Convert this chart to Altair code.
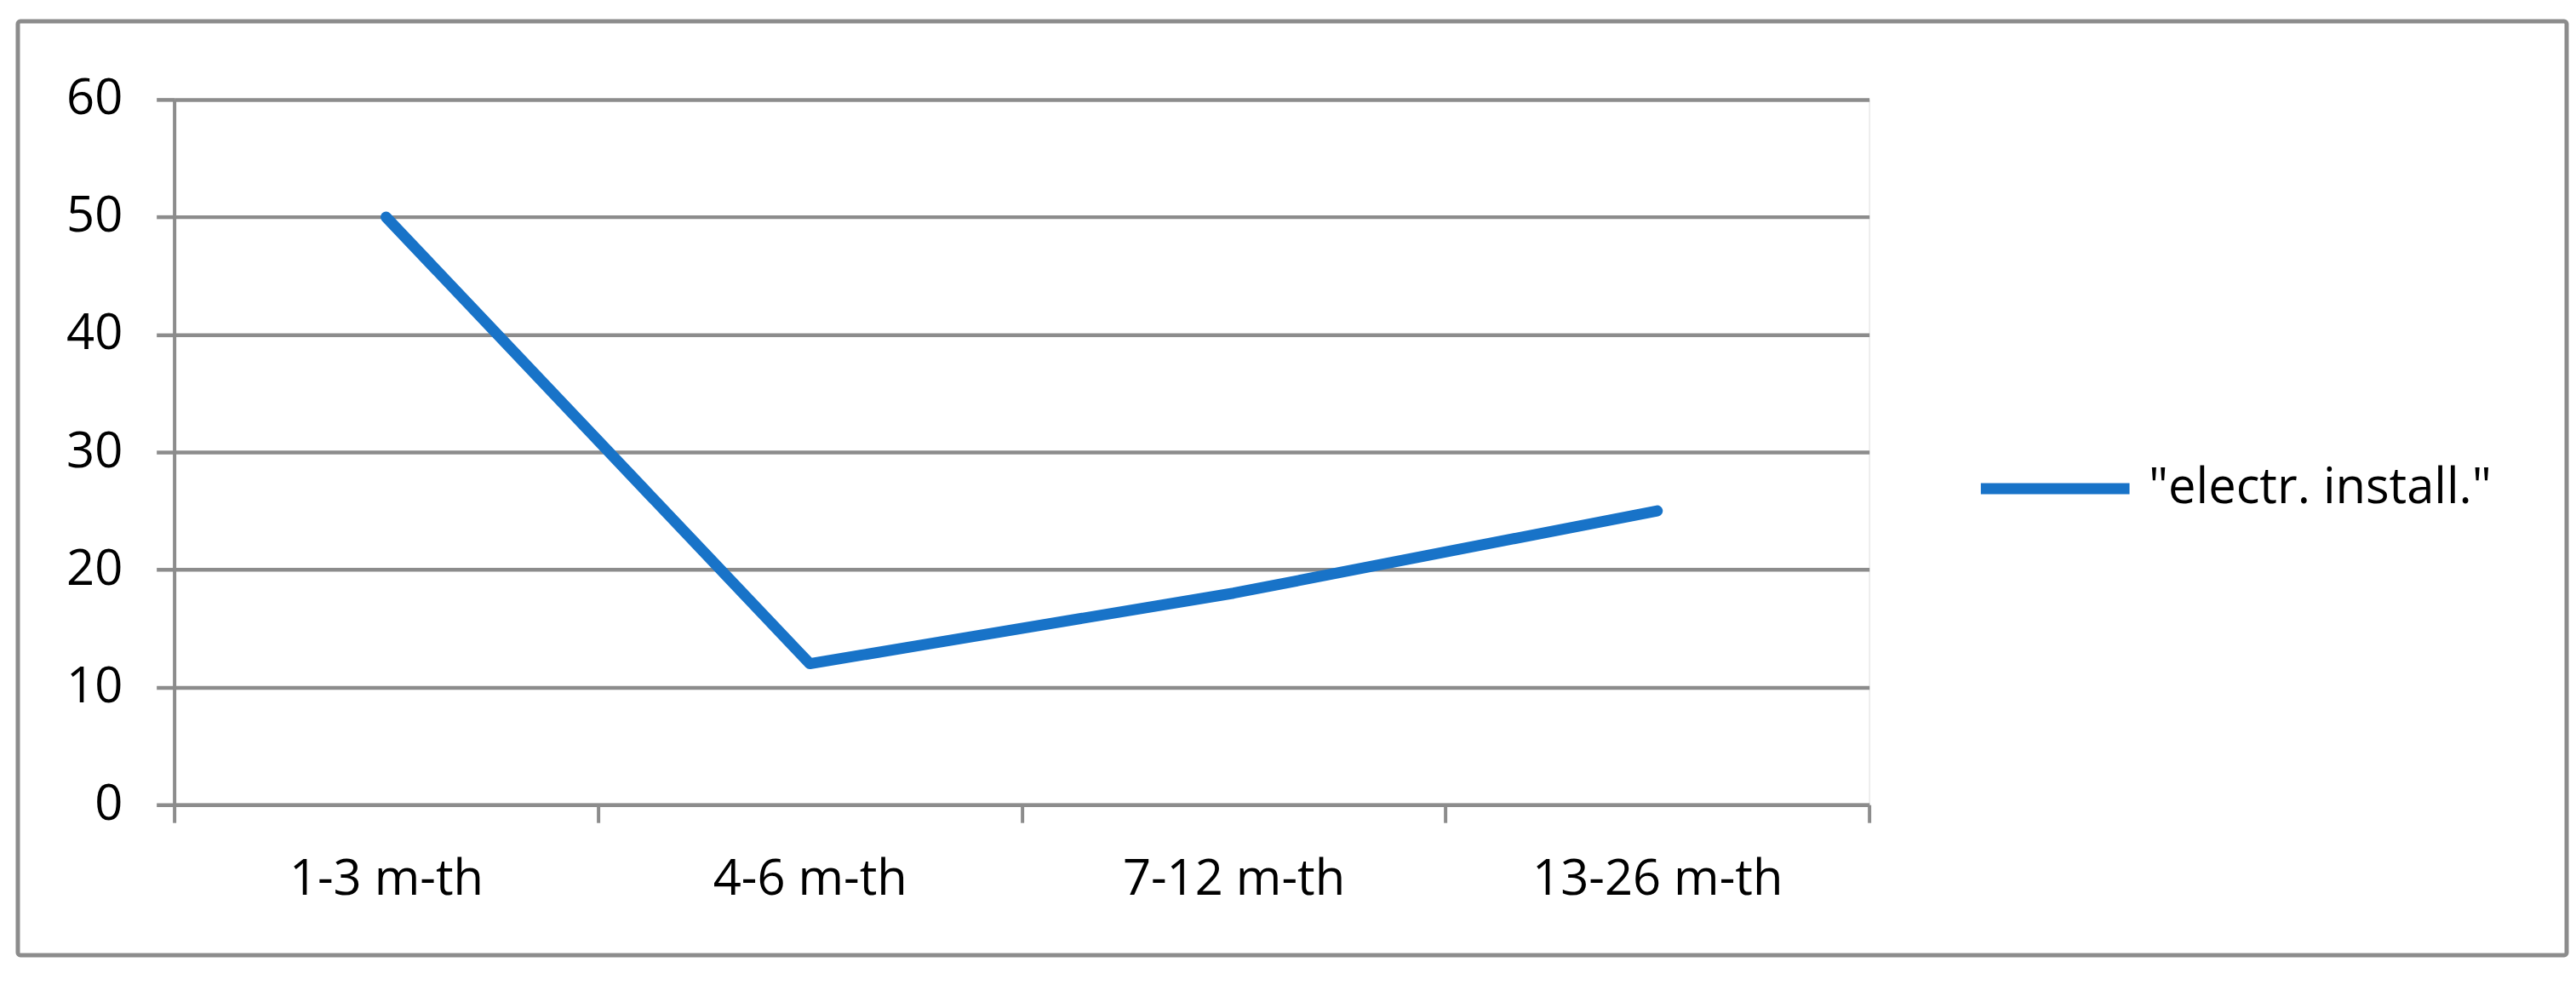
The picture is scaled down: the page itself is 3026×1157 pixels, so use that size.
import altair as alt
import pandas as pd

categories = ["1-3 m-th", "4-6 m-th", "7-12 m-th", "13-26 m-th"]
values = [50, 12, 18, 25]
series_name = '"electr. install."'
y_ticks = [0, 10, 20, 30, 40, 50, 60]

GRAY = "#8c8c8c"
BLUE = "#1873c8"
FONT = "Open Sans"

df = pd.DataFrame({"period": categories, "value": values, "series": [series_name] * len(categories)})

W, H = 1995, 830

line = alt.Chart(df).mark_line(
    strokeWidth=13, strokeCap="round", strokeJoin="round"
).encode(
    x=alt.X("period:N", sort=categories,
            scale=alt.Scale(paddingInner=0, paddingOuter=0),
            axis=alt.Axis(title=None, labelAngle=0, tickBand="extent",
                          tickSize=21, tickWidth=4, tickColor=GRAY,
                          domainColor=GRAY, domainWidth=4,
                          labelFont=FONT, labelFontSize=58, labelColor="black",
                          labelPadding=38, labelLimit=0, grid=False)),
    y=alt.Y("value:Q", scale=alt.Scale(domain=[0, 60], nice=False),
            axis=alt.Axis(title=None, values=y_ticks, grid=True,
                          gridColor=GRAY, gridWidth=4.5, gridOpacity=1,
                          tickSize=21, tickWidth=4.5, tickColor=GRAY,
                          domainColor=GRAY, domainWidth=4,
                          labelFont=FONT, labelFontSize=58, labelColor="black",
                          labelPadding=40, labelLimit=0)),
    color=alt.Color("series:N",
                    scale=alt.Scale(range=[BLUE]),
                    legend=alt.Legend(title=None, orient="none",
                                      legendX=2120, legendY=364,
                                      symbolType="stroke", symbolSize=30625,
                                      symbolStrokeWidth=13,
                                      labelFont=FONT, labelFontSize=58,
                                      labelColor="black", labelOffset=16,
                                      labelLimit=0, padding=0)),
)

border = alt.Chart(alt.Data(values=[{"a": 1}])).mark_rect(
    fill=None, fillOpacity=0, stroke=GRAY, strokeWidth=5, cornerRadius=3
).encode(
    x=alt.value(-184), x2=alt.value(2816),
    y=alt.value(-92), y2=alt.value(1007),
)

chart = alt.layer(border, line).properties(
    width=W, height=H,
    autosize=alt.AutoSizeParams(type="none"),
    padding={"left": 197, "top": 108, "right": 824, "bottom": 180},
).configure_view(stroke=None).configure(background="white")

chart.save("out.html", embed_options={"renderer": "svg", "actions": False})
